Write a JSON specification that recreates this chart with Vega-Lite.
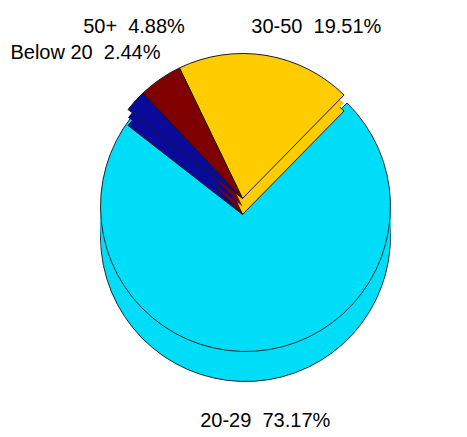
{
  "$schema": "https://vega.github.io/schema/vega-lite/v6.json",
  "width": 467,
  "height": 437,
  "autosize": {"type": "none"},
  "padding": 0,
  "background": "white",
  "config": {"view": {"stroke": null}, "text": {"font": "Liberation Sans", "fontSize": 20, "color": "black"}},
  "data": {"values": [
    {"group": "30-50", "pct": 19.51, "order": 1, "label": "30-50\u00a0\u00a019.51%"},
    {"group": "20-29", "pct": 73.17, "order": 2, "label": "20-29\u00a0\u00a073.17%"},
    {"group": "Below 20", "pct": 2.44, "order": 3, "label": "Below 20\u00a0\u00a02.44%"},
    {"group": "50+", "pct": 4.88, "order": 4, "label": "50+\u00a0\u00a04.88%"}
  ]},
  "encoding": {
    "theta": {"field": "pct", "type": "quantitative", "stack": true, "scale": {"range": [-0.45, 5.8332]}},
    "order": {"field": "order", "type": "quantitative"},
    "color": {"field": "group", "type": "nominal", "legend": null,
      "scale": {"domain": ["30-50", "20-29", "Below 20", "50+"], "range": ["#FFCC00", "#00DDF8", "#0A0A9A", "#800000"]}}
  },
  "layer": [
    {"mark": {"type": "arc", "outerRadius": 145, "xOffset": 12, "yOffset": 18, "stroke": "#1a2a30", "strokeWidth": 1},
     "encoding": {"opacity": {"condition": {"test": "datum.group == '20-29'", "value": 1}, "value": 0}}},
    {"mark": {"type": "arc", "outerRadius": 145, "xOffset": 12, "yOffset": 11},
     "encoding": {"opacity": {"condition": {"test": "datum.group == '20-29'", "value": 1}, "value": 0}}},
    {"mark": {"type": "arc", "outerRadius": 145, "xOffset": 12, "yOffset": 4},
     "encoding": {"opacity": {"condition": {"test": "datum.group == '20-29'", "value": 1}, "value": 0}}},
    {"mark": {"type": "arc", "outerRadius": 145, "xOffset": 12, "yOffset": -3},
     "encoding": {"opacity": {"condition": {"test": "datum.group == '20-29'", "value": 1}, "value": 0}}},
    {"mark": {"type": "arc", "outerRadius": 145, "xOffset": 12, "yOffset": -12, "stroke": "#1a2a30", "strokeWidth": 1},
     "encoding": {"opacity": {"condition": {"test": "datum.group == '20-29'", "value": 1}, "value": 0}}},
    {"mark": {"type": "arc", "outerRadius": 145, "xOffset": 9, "yOffset": -4, "stroke": "#1a1a1a", "strokeWidth": 1},
     "encoding": {"opacity": {"condition": {"test": "datum.group != '20-29'", "value": 1}, "value": 0}}},
    {"mark": {"type": "arc", "outerRadius": 145, "xOffset": 9, "yOffset": -12},
     "encoding": {"opacity": {"condition": {"test": "datum.group != '20-29'", "value": 1}, "value": 0}}},
    {"mark": {"type": "arc", "outerRadius": 145, "xOffset": 9, "yOffset": -20, "stroke": "#1a1a1a", "strokeWidth": 1},
     "encoding": {"opacity": {"condition": {"test": "datum.group != '20-29'", "value": 1}, "value": 0}}},
    {"mark": {"type": "text", "radius": 190, "dx": 52, "dy": -4},
     "encoding": {"text": {"condition": {"test": "datum.group == '30-50'", "field": "label"}, "value": ""}, "color": {"value": "black"}}},
    {"mark": {"type": "text", "radius": 205, "dx": 18, "dy": -2},
     "encoding": {"text": {"condition": {"test": "datum.group == '20-29'", "field": "label"}, "value": ""}, "color": {"value": "black"}}},
    {"mark": {"type": "text", "radius": 200, "dx": 0, "dy": -31},
     "encoding": {"text": {"condition": {"test": "datum.group == 'Below 20'", "field": "label"}, "value": ""}, "color": {"value": "black"}}},
    {"mark": {"type": "text", "radius": 200, "dx": 14, "dy": -27},
     "encoding": {"text": {"condition": {"test": "datum.group == '50+'", "field": "label"}, "value": ""}, "color": {"value": "black"}}}
  ]
}
